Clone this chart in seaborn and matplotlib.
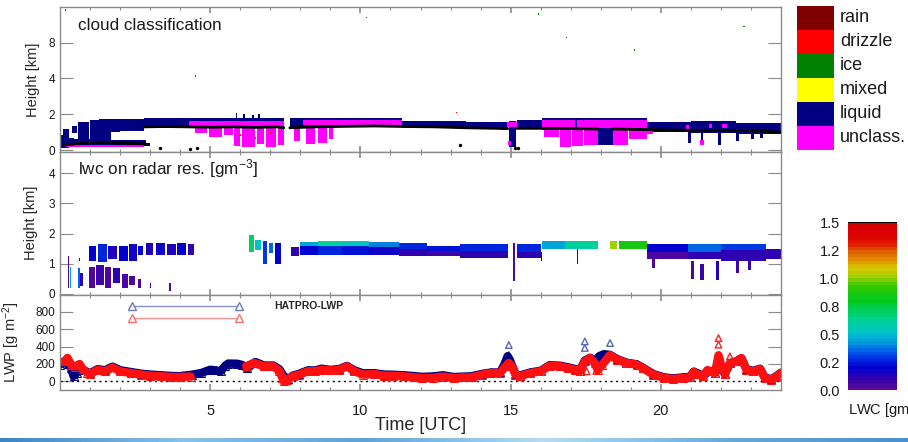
import numpy as np
import pandas as pd
import matplotlib
matplotlib.use("Agg")
import matplotlib.pyplot as plt
import seaborn as sns
from matplotlib.colors import LinearSegmentedColormap, ListedColormap, Normalize
from matplotlib.cm import ScalarMappable

# ---- cloud classification: (t_start, t_end, base_km, top_km) ----
liquid = [
    (0.00, 0.10, 0.10, 0.85), (0.10, 0.30, 0.15, 1.20), (0.30, 0.45, 0.20, 0.70),
    (0.45, 1.00, 0.20, 0.60), (1.00, 2.85, 0.25, 0.55), (2.85, 3.00, 0.25, 0.40),
    (0.40, 0.55, 0.95, 1.35), (0.60, 0.95, 0.60, 1.55), (1.00, 1.30, 0.55, 1.70),
    (1.30, 1.70, 0.55, 1.75), (1.70, 2.00, 1.00, 1.72), (2.00, 2.80, 1.05, 1.75),
    (2.80, 7.45, 1.22, 1.78), (7.65, 11.40, 1.28, 1.78), (11.40, 13.50, 1.22, 1.62),
    (13.50, 14.90, 1.18, 1.58), (14.95, 15.18, 0.20, 1.62), (15.20, 16.05, 1.18, 1.68),
    (16.05, 19.55, 1.12, 1.78), (19.55, 21.00, 1.02, 1.58), (21.00, 22.50, 0.98, 1.62),
    (22.50, 24.00, 0.92, 1.50),
    (20.90, 21.00, 0.40, 1.10), (21.35, 21.42, 0.50, 1.00), (21.90, 22.00, 0.30, 1.00),
    (22.50, 22.60, 0.50, 1.00), (23.00, 23.10, 0.60, 1.00), (23.30, 23.40, 0.70, 1.00),
    (5.85, 5.90, 1.70, 2.05), (6.10, 6.16, 1.70, 2.00), (6.40, 6.45, 1.70, 1.95),
    (6.60, 6.66, 1.70, 2.02),
]
unclass = [
    (0.20, 2.80, 0.18, 0.28),
    (4.30, 7.45, 1.35, 1.65), (8.10, 11.40, 1.38, 1.66), (14.88, 15.20, 1.30, 1.60),
    (16.05, 17.15, 1.25, 1.68), (17.20, 19.55, 1.25, 1.68),
    (4.50, 4.90, 0.95, 1.30), (4.95, 5.40, 0.75, 1.30), (5.45, 5.75, 0.85, 1.30),
    (5.80, 6.00, 0.25, 1.30), (6.05, 6.50, 0.20, 1.30), (6.55, 6.80, 0.35, 1.30),
    (6.85, 7.20, 0.20, 1.30), (7.25, 7.45, 0.30, 1.30),
    (7.80, 8.00, 0.50, 1.30), (8.20, 8.50, 0.35, 1.30), (8.60, 8.90, 0.40, 1.30),
    (8.95, 9.10, 0.60, 1.30),
    (16.10, 16.60, 0.75, 1.15), (16.66, 17.00, 0.20, 1.15), (17.05, 17.40, 0.25, 1.15),
    (17.45, 17.90, 0.30, 1.15), (18.40, 18.90, 0.30, 1.15), (18.95, 19.55, 0.60, 1.15),
    (19.55, 19.75, 0.90, 1.10),
    (14.92, 15.00, 0.30, 0.50), (21.30, 21.45, 0.30, 0.55), (20.85, 20.95, 1.20, 1.40),
    (21.60, 21.70, 1.25, 1.45), (22.05, 22.20, 1.25, 1.45),
]
liquid_deep = [(17.90, 18.40, 0.30, 1.20)]
drizzle = [(13.17, 13.22, 2.05, 2.15), (6.00, 6.04, 0.80, 0.90), (6.50, 6.54, 0.65, 0.75),
           (7.00, 7.04, 0.90, 1.00), (17.40, 17.44, 1.60, 1.70), (2.25, 2.28, 0.45, 0.55)]
ice = [(0.15, 0.19, 7.75, 7.85), (4.48, 4.52, 4.10, 4.18), (10.18, 10.22, 7.35, 7.43),
       (15.92, 15.96, 7.55, 7.63), (16.83, 16.87, 6.25, 6.33), (19.11, 19.15, 5.55, 5.63),
       (22.75, 22.79, 6.85, 6.93)]

# cloud base (black line), one segment id per point
base_seg = [0, 0, 0, 0, 0,
            1, 1, 1, 1, 1, 1, 1, 1,
            2, 2, 2, 2, 2, 2, 2, 2, 2,
            3, 3, 3, 3,
            4, 4, 4, 4, 4, 4, 4]
base_t = [0.15, 0.80, 1.50, 2.20, 2.85,
          2.80, 3.50, 4.30, 5.00, 5.80, 6.50, 7.20, 7.45,
          7.65, 8.50, 9.50, 10.50, 11.50, 12.50, 13.50, 14.50, 14.90,
          15.20, 16.00, 17.00, 17.90,
          18.40, 19.50, 20.50, 21.50, 22.50, 23.50, 24.00]
base_h = [0.30, 0.40, 0.42, 0.38, 0.35,
          1.30, 1.32, 1.30, 1.28, 1.30, 1.27, 1.30, 1.25,
          1.25, 1.30, 1.33, 1.35, 1.32, 1.30, 1.25, 1.22, 1.20,
          1.22, 1.22, 1.20, 1.18,
          1.18, 1.15, 1.12, 1.10, 1.10, 1.05, 1.00]
dots_t = [3.33, 4.33, 4.55, 13.30, 15.16, 15.25]
dots_h = [0.10, 0.08, 0.10, 0.30, 0.15, 0.12]

class_names = ["rain", "drizzle", "ice", "mixed", "liquid", "unclass."]
class_colors = ["#800000", "#ff0000", "#008000", "#ffff00", "#000080", "#ff00ff"]

# ---- lwc on radar resolution: (t_start, t_end, base_km, top_km, lwc) ----
lwc_blocks = [
    (0.26, 0.30, 0.20, 1.25, 0.05), (0.33, 0.37, 0.20, 0.90, 0.45), (0.60, 0.65, 0.20, 0.85, 0.35),
    (0.68, 0.75, 0.25, 0.70, 0.10), (0.62, 0.66, 1.10, 1.20, 0.10),
    (0.95, 1.20, 1.10, 1.60, 0.20), (1.25, 1.55, 1.05, 1.65, 0.25), (1.60, 1.90, 1.15, 1.60, 0.15),
    (1.95, 2.25, 1.10, 1.60, 0.20), (2.30, 2.55, 1.10, 1.65, 0.18), (2.60, 2.75, 1.30, 1.60, 0.20),
    (0.95, 1.15, 0.20, 0.90, 0.05), (1.20, 1.45, 0.30, 0.95, 0.08), (1.50, 1.70, 0.20, 0.90, 0.05),
    (1.75, 2.00, 0.35, 0.85, 0.10), (2.05, 2.25, 0.20, 0.65, 0.05), (2.30, 2.50, 0.30, 0.60, 0.05),
    (2.60, 2.70, 0.20, 0.50, 0.05), (3.00, 3.03, 0.20, 0.35, 0.05), (3.64, 3.68, 0.10, 0.35, 0.05),
    (2.85, 3.10, 1.28, 1.68, 0.15), (3.20, 3.50, 1.30, 1.70, 0.18), (3.55, 3.85, 1.30, 1.65, 0.15),
    (3.90, 4.20, 1.30, 1.68, 0.20), (4.25, 4.45, 1.30, 1.65, 0.12),
    (6.30, 6.45, 1.40, 1.95, 0.70), (6.50, 6.70, 1.45, 1.80, 0.50), (6.75, 6.90, 1.00, 1.75, 0.30),
    (6.95, 7.10, 1.35, 1.70, 0.35), (7.15, 7.35, 1.00, 1.70, 0.20),
    (7.70, 7.95, 1.25, 1.55, 0.10),
    (8.00, 8.60, 1.60, 1.72, 0.45), (8.00, 8.60, 1.28, 1.60, 0.20),
    (8.60, 9.40, 1.60, 1.75, 0.60), (8.60, 9.40, 1.28, 1.60, 0.25),
    (9.40, 10.30, 1.60, 1.75, 0.55), (9.40, 10.30, 1.30, 1.60, 0.22),
    (10.30, 11.30, 1.55, 1.72, 0.40), (10.30, 11.30, 1.30, 1.55, 0.18),
    (11.30, 12.20, 1.50, 1.68, 0.28), (11.30, 12.20, 1.25, 1.50, 0.12),
    (12.20, 13.30, 1.42, 1.60, 0.22), (12.20, 13.30, 1.25, 1.42, 0.08),
    (13.30, 14.90, 1.42, 1.64, 0.25), (13.30, 14.90, 1.20, 1.42, 0.10),
    (15.08, 15.13, 0.42, 1.70, 0.05),
    (15.20, 16.00, 1.40, 1.64, 0.25), (15.20, 16.00, 1.20, 1.40, 0.12),
    (16.05, 16.80, 1.48, 1.75, 0.45), (16.80, 17.90, 1.48, 1.75, 0.60),
    (18.30, 18.55, 1.48, 1.75, 1.00), (18.60, 19.55, 1.48, 1.75, 0.85),
    (19.55, 20.90, 1.40, 1.64, 0.20), (19.55, 20.90, 1.14, 1.40, 0.05),
    (20.90, 22.00, 1.40, 1.64, 0.35), (20.90, 22.00, 1.14, 1.40, 0.12),
    (22.00, 23.50, 1.45, 1.64, 0.30), (22.00, 23.50, 1.10, 1.45, 0.10),
    (23.50, 24.00, 1.15, 1.50, 0.10),
    (19.70, 19.80, 0.85, 1.20, 0.05), (21.00, 21.10, 0.50, 1.10, 0.05), (21.30, 21.45, 0.45, 1.00, 0.08),
    (21.85, 21.95, 0.45, 1.10, 0.15), (22.50, 22.60, 0.70, 1.10, 0.08), (22.90, 23.00, 0.80, 1.10, 0.08),
    (17.20, 17.25, 1.00, 1.48, 0.10), (16.00, 16.05, 1.10, 1.40, 0.10),
]
lwc_ticks = [0.0, 0.25, 0.5, 0.75, 1.0, 1.25, 1.5]
lwc_stops = [(0.00, "#5a0a96"), (0.07, "#2a00b4"), (0.13, "#0000d0"), (0.20, "#0040e8"),
             (0.27, "#0090e0"), (0.33, "#00c0d0"), (0.40, "#00d0a0"), (0.47, "#00d060"),
             (0.53, "#00c820"), (0.62, "#30c800"), (0.68, "#a0d000"), (0.73, "#d8c800"),
             (0.78, "#e09000"), (0.83, "#e06000"), (0.88, "#e01800"), (0.93, "#dd0000"),
             (1.00, "#d00000")]

# ---- LWP [g m-2] ----
blue_t = [0.00, 0.10, 0.25, 0.37, 0.45, 0.55, 0.65, 0.76, 1.00, 1.25, 1.50, 1.75, 2.00, 2.35,
          2.70, 3.00, 3.35, 3.70, 4.00, 4.40, 4.70, 5.00, 5.20, 5.35, 5.50, 5.60, 5.90, 6.05,
          6.24, 6.50, 6.80, 7.10, 7.30, 7.45, 7.60, 7.75, 7.95, 8.25, 8.50, 8.70, 9.00, 9.30,
          9.55, 9.80, 10.10, 10.45, 10.80, 11.10, 11.45, 11.80, 12.05, 12.40, 12.75, 13.10,
          13.40, 13.70, 14.05, 14.35, 14.65, 14.80, 14.90, 14.97, 15.05, 15.16, 15.30, 15.65,
          16.00, 16.30, 16.65, 16.90, 17.15, 17.30, 17.47, 17.65, 17.80, 17.95, 18.10, 18.30,
          18.55, 18.85, 19.20, 19.40, 19.75, 20.10, 20.40, 20.75, 20.97, 21.10, 21.40, 21.63,
          21.80, 22.00, 22.13, 22.30, 22.52, 22.68, 22.85, 23.07, 23.30, 23.46, 23.68, 23.85, 24.00]
blue_lwp = [192, 225, 205, 150, 60, 95, 150, 134, 92, 140, 128, 170, 128, 108,
            88, 78, 70, 62, 60, 77, 96, 134, 125, 115, 180, 205, 203, 190,
            150, 222, 182, 182, 140, 60, 28, 66, 86, 126, 126, 146, 132, 142,
            178, 126, 92, 94, 78, 76, 70, 60, 52, 56, 70, 50,
            54, 58, 86, 102, 102, 200, 290, 250, 180, 86, 66, 102,
            122, 186, 180, 162, 142, 122, 240, 272, 232, 290, 312, 306,
            256, 216, 196, 158, 84, 46, 34, 46, 52, 112, 64, 120,
            100, 178, 84, 206, 232, 266, 140, 120, 146, 44, 24, 62, 100]
red_t1 = [0.15, 0.25, 0.37, 0.50, 0.65, 0.76, 0.90, 1.00, 1.25, 1.50, 1.75, 2.00, 2.35, 2.70,
          3.00, 3.35, 3.70, 4.00, 4.35]
red_lwp1 = [230, 270, 190, 170, 200, 140, 100, 80, 132, 115, 160, 115, 96, 78,
            66, 58, 50, 50, 55]
red_t2 = [6.20, 6.45, 6.80, 7.10, 7.30, 7.40, 7.45, 7.57, 7.75, 7.95, 8.25, 8.50, 8.70, 9.00,
          9.30, 9.55, 9.80, 10.10, 10.45, 10.80, 11.10, 11.45, 11.80, 12.05, 12.40, 12.75,
          13.10, 13.40, 13.70, 14.05, 14.35, 14.65, 14.83, 14.94, 15.05, 15.16, 15.30, 15.65,
          16.00, 16.30, 16.65, 16.90, 17.15, 17.30, 17.47, 17.65, 17.80, 17.90, 18.05, 18.30,
          18.55, 18.85, 19.20, 19.40, 19.75, 20.10, 20.40, 20.75, 20.97, 21.10, 21.20, 21.40,
          21.55, 21.63, 21.80, 21.92, 22.02, 22.13, 22.30, 22.52, 22.68, 22.85, 23.07, 23.30,
          23.46, 23.68, 23.85, 24.00]
red_lwp2 = [175, 211, 172, 172, 120, 40, 0, 19, 58, 77, 115, 118, 134, 126,
            134, 172, 115, 77, 84, 65, 65, 58, 46, 39, 40, 55,
            39, 44, 46, 77, 96, 96, 172, 211, 172, 77, 58, 96,
            115, 180, 172, 153, 134, 115, 230, 268, 211, 130, 190, 300,
            250, 211, 192, 153, 77, 39, 27, 39, 46, 110, 80, 58,
            130, 115, 96, 300, 172, 90, 211, 230, 268, 134, 115, 142,
            39, 19, 58, 96]
red_pts_t = [5.90, 21.92, 21.92, 22.30, 22.50, 17.53, 17.85]
red_pts_lwp = [200, 498, 422, 288, 230, 115, 120]
blue_pts_t = [14.94, 14.94, 17.47, 17.47, 18.31]
blue_pts_lwp = [418, 303, 460, 384, 441]

# ------------------------------------------------------------------
sns.set_style("ticks")
plt.rcParams["font.family"] = ["Liberation Sans", "DejaVu Sans"]
plt.rcParams["mathtext.fontset"] = "custom"
plt.rcParams["mathtext.rm"] = "Liberation Sans"
plt.rcParams["mathtext.it"] = "Liberation Sans:italic"

W, H = 908, 442
fig = plt.figure(figsize=(W / 100, H / 100), dpi=100)


def px_axes(x0, y0, x1, y1):
    return fig.add_axes([x0 / W, 1 - y1 / H, (x1 - x0) / W, (y1 - y0) / H])


ax1 = px_axes(60, 6.7, 781, 152)
ax2 = px_axes(60, 152, 781, 294.5)
ax3 = px_axes(60, 294.5, 781, 390)

spine_col = "#8a8a8a"


def style(ax, ylim, yticks, ylabels=None, xlabels=False):
    ax.set_xlim(0, 24)
    ax.set_ylim(*ylim)
    ax.set_xticks([5, 10, 15, 20])
    ax.set_xticks(range(1, 24), minor=True)
    ax.set_yticks(yticks)
    if ylabels is not None:
        ax.set_yticklabels(ylabels)
    ax.tick_params(which="both", direction="in", top=True, right=True,
                   color=spine_col, labelcolor="#1a1a1a")
    ax.tick_params(axis="y", length=9.5, width=0.8, labelsize=8.5, pad=3.5)
    ax.tick_params(axis="x", which="major", length=4, width=1.2)
    ax.tick_params(axis="x", which="minor", length=2.5, width=0.8)
    ax.tick_params(axis="x", labelbottom=xlabels, labelsize=10.5, pad=10)
    for s in ax.spines.values():
        s.set_color(spine_col)
        s.set_linewidth(1.0)


def draw_blocks(ax, blocks, color):
    df = pd.DataFrame(blocks, columns=["t0", "t1", "base", "top"])
    ax.bar(df["t0"].to_numpy(), (df["top"] - df["base"]).to_numpy(),
           width=(df["t1"] - df["t0"]).to_numpy(), bottom=df["base"].to_numpy(),
           align="edge", color=color, linewidth=0, zorder=2)


# panel 1: cloud classification
draw_blocks(ax1, liquid, class_colors[4])
draw_blocks(ax1, unclass, class_colors[5])
draw_blocks(ax1, liquid_deep, class_colors[4])
draw_blocks(ax1, drizzle, class_colors[1])
draw_blocks(ax1, ice, class_colors[2])
base_df = pd.DataFrame({"t": base_t, "h": base_h, "seg": base_seg})
sns.lineplot(data=base_df, x="t", y="h", units="seg", estimator=None, sort=False,
             color="black", linewidth=2.0, ax=ax1, legend=False, zorder=3)
sns.scatterplot(x=dots_t, y=dots_h, color="black", s=6, linewidth=0, ax=ax1, zorder=3)
style(ax1, (-0.1, 8.0), [0, 2, 4, 6], ["0", "2", "4", "8"])
ax1.set_xlabel("")
ax1.set_ylabel("Height [km]", fontsize=10.5)
ax1.yaxis.set_label_coords(-0.028, 0.5)
ax1.text(0.025, 0.874, "cloud classification", transform=ax1.transAxes,
         fontsize=12.3, va="center", ha="left", color="#1a1a1a")

# panel 2: lwc
cmap = LinearSegmentedColormap.from_list("lwc", lwc_stops, N=48)
norm = Normalize(0, 1.5)
lwc_df = pd.DataFrame(lwc_blocks, columns=["t0", "t1", "base", "top", "lwc"])
ax2.bar(lwc_df["t0"].to_numpy(), (lwc_df["top"] - lwc_df["base"]).to_numpy(),
        width=(lwc_df["t1"] - lwc_df["t0"]).to_numpy(), bottom=lwc_df["base"].to_numpy(),
        align="edge", color=cmap(norm(lwc_df["lwc"].to_numpy())), linewidth=0)
style(ax2, (-0.02, 4.7), [0, 1, 2, 3, 4])
ax2.set_ylabel("Height [km]", fontsize=10.5)
ax2.yaxis.set_label_coords(-0.031, 0.5)
ax2.text(0.025, 0.881, "lwc on radar res. [gm$^{-3}$]", transform=ax2.transAxes,
         fontsize=12.3, va="center", ha="left", color="#1a1a1a")

# panel 3: LWP
ax3.axhline(0, color="black", linestyle=(0, (1.5, 2.5)), linewidth=1)
sns.lineplot(x=blue_t, y=blue_lwp, color="#000080", linewidth=6, marker="^",
             markersize=5.5, markerfacecolor="none", markeredgecolor="#000080",
             estimator=None, sort=False, ax=ax3)
red_df = pd.DataFrame({"t": red_t1 + red_t2, "lwp": red_lwp1 + red_lwp2,
                       "seg": [0] * len(red_t1) + [1] * len(red_t2)})
sns.lineplot(data=red_df, x="t", y="lwp", units="seg", estimator=None, sort=False,
             color="#ff1010", linewidth=6, marker="^", markersize=5.5,
             markerfacecolor="none", markeredgecolor="#ff1010", ax=ax3, legend=False)
sns.scatterplot(x=red_pts_t, y=red_pts_lwp, marker="^", s=22, facecolor="none",
                edgecolor="#ff2020", linewidth=1, ax=ax3)
sns.scatterplot(x=blue_pts_t, y=blue_pts_lwp, marker="^", s=22, facecolor="none",
                edgecolor="#5a66b8", linewidth=1, ax=ax3)
style(ax3, (-100, 1000), [0, 200, 400, 600, 800], xlabels=True)
ax3.set_xlabel("Time [UTC]", fontsize=13, labelpad=-1)
ax3.set_ylabel("LWP [g m$^{-2}$]", fontsize=10.5)
ax3.yaxis.set_label_coords(-0.053, 0.5)

h_blue = plt.Line2D([], [], color="#8a90cc", lw=1, marker="^", ms=6,
                    mfc="white", mec="#7078c0", mew=1)
h_red = plt.Line2D([], [], color="#ff9090", lw=1, marker="^", ms=6,
                   mfc="white", mec="#ff6a6a", mew=1)
ax3.legend([h_blue, h_red], ["HATPRO-LWP", " "], numpoints=2, loc="upper left",
           bbox_to_anchor=(0.0957, 0.93), frameon=False, borderpad=0, borderaxespad=0,
           handlelength=10.9, handletextpad=3.0, labelspacing=0.25,
           prop={"size": 7.5, "weight": "bold"})

# class legend
ax_leg = px_axes(797, 6, 834, 150)
ax_leg.imshow(np.arange(len(class_names))[:, None], cmap=ListedColormap(class_colors),
              aspect="auto", interpolation="nearest")
ax_leg.set_axis_off()
for i, name in enumerate(class_names):
    ax_leg.text(1.16, 1 - (i + 0.5) / len(class_names), name, transform=ax_leg.transAxes,
                va="center", ha="left", fontsize=13, color="#1a1a1a")

# colorbar
cax = px_axes(848, 222, 897, 390)
cb = fig.colorbar(ScalarMappable(norm=norm, cmap=cmap), cax=cax, ticks=lwc_ticks)
cb.outline.set_visible(False)
cax.yaxis.set_ticks_position("left")
cax.set_yticklabels(["%.1f" % v for v in lwc_ticks])
cax.tick_params(length=0, labelsize=10.5, pad=6, labelcolor="#1a1a1a")
cax.axhline(1.5, color="black", linewidth=1.5)
# the reference cuts this label at the right edge of the figure
cax.text(0.0, -0.12, "LWC [gm$^{-3}$]", transform=cax.transAxes, fontsize=10.5,
         va="center", ha="left", color="#1a1a1a")

# bottom decorative band
band = fig.add_axes([0, 0, 1, 4.5 / H])
band_cols = LinearSegmentedColormap.from_list(
    "band", ["#3c86c4", "#8cc0e6", "#5fa2d6", "#b8dcf2", "#6aaad8", "#4a90cc"])
band.imshow(np.linspace(0, 1, 200)[None, :], cmap=band_cols, aspect="auto")
band.set_axis_off()

fig.savefig("out.png", dpi=100)
